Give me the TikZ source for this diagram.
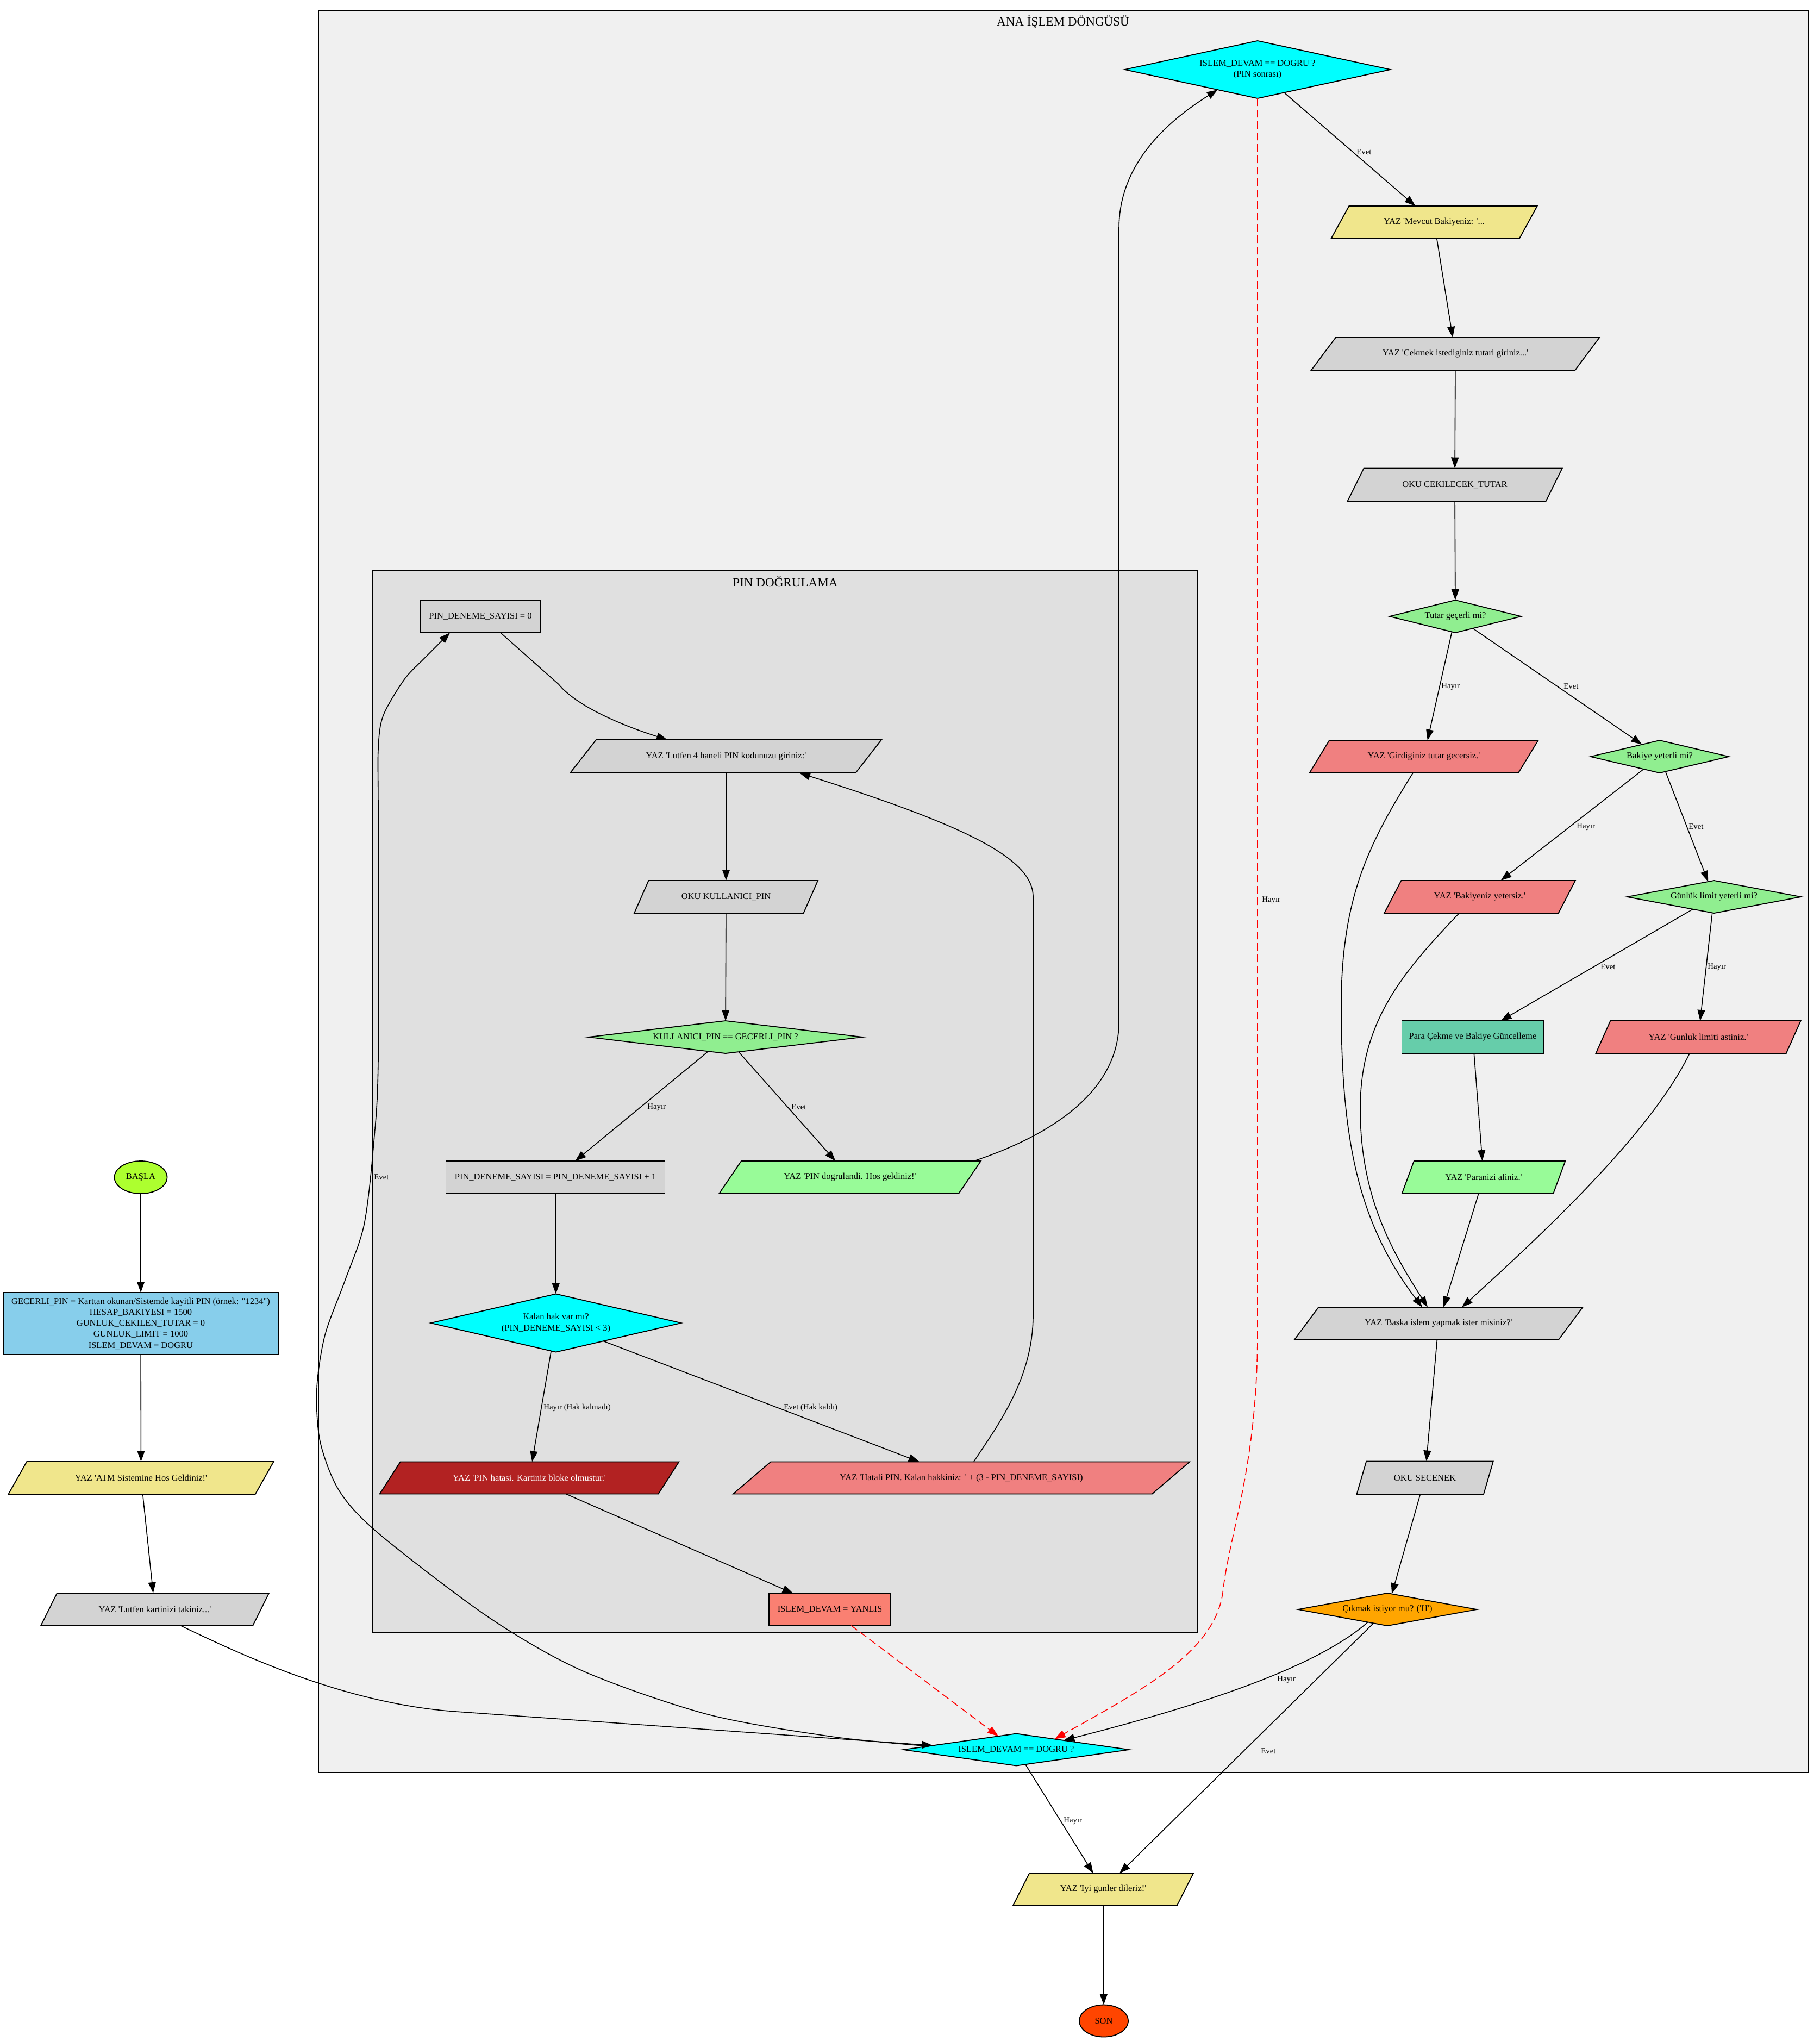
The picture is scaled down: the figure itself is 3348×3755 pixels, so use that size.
\documentclass[tikz,border=0pt]{standalone}
\usepackage{fontspec}
\setmainfont{Liberation Serif}[Ligatures=TeXOff]
\usetikzlibrary{shapes.geometric,arrows.meta,calc}
\definecolor{cOuter}{HTML}{F0F0F0}
\definecolor{cInner}{HTML}{E0E0E0}
\definecolor{cLgray}{HTML}{D3D3D3}
\definecolor{cKhaki}{HTML}{F0E68C}
\definecolor{cSky}{HTML}{87CEEB}
\definecolor{cGY}{HTML}{ADFF2F}
\definecolor{cCyan}{HTML}{00FFFF}
\definecolor{cLgreen}{HTML}{90EE90}
\definecolor{cPgreen}{HTML}{98FB98}
\definecolor{cLcoral}{HTML}{F08080}
\definecolor{cFire}{HTML}{B22222}
\definecolor{cSalmon}{HTML}{FA8072}
\definecolor{cMAqua}{HTML}{66CDAA}
\definecolor{cOrange}{HTML}{FFA500}
\definecolor{cOred}{HTML}{FF4500}
\tikzset{
 nfont/.style={font=\fontsize{8.25}{10.1}\selectfont},
 base/.style={nfont, draw=black, line width=0.9pt, inner sep=0pt, outer sep=0pt, align=center},
 boxn/.style 2 args={base, rectangle, minimum width={#1*0.5pt}, minimum height={#2*0.5pt}},
 pgram/.style 2 args={base, trapezium, trapezium stretches=true, minimum width={#1*0.5pt}, minimum height={#2*0.5pt}, trapezium left angle={atan(#2/(0.206*#1))}, trapezium right angle={180-atan(#2/(0.206*#1))}},
 dmd/.style n args={3}{base, diamond, minimum width={#1*0.5pt}, minimum height={#2*0.5pt}, aspect=#3},
 ell/.style 2 args={base, ellipse, minimum width={#1*0.5pt}, minimum height={#2*0.5pt}},
 conn/.style={draw=black, line width=0.8pt, -{Triangle[length=10pt,width=7pt]}},
 rconn/.style={draw=red, line width=0.8pt, dash pattern=on 7pt off 3.5pt, -{Triangle[length=10pt,width=7pt]}},
 elab/.style={font=\fontsize{7.4}{8.9}\selectfont, anchor=west, inner sep=0pt},
 ctitle/.style={font=\fontsize{11.55}{13.5}\selectfont, inner sep=0pt},
}
\begin{document}
\begin{tikzpicture}[x=0.5pt,y=-0.5pt]
\useasboundingbox (0,0) rectangle (3348,3755);
\fill[white] (0,0) rectangle (3348,3755);
% clusters
\draw[fill=cOuter, line width=0.9pt] (586,19) rectangle (3327,3261);
\draw[fill=cInner, line width=0.9pt] (686,1049) rectangle (2204,3004);
\node[ctitle] (tOuter) at (1956,40) {ANA İŞLEM DÖNGÜSÜ};
\node[ctitle] (tInner) at (1445,1070) {PIN DOĞRULAMA};

% left column
\node[ell={97}{60}, fill=cGY] (start) at (259,2166) {BAŞLA};
\node[boxn={506}{114}, fill=cSky] (init) at (259,2435) {GECERLI\_PIN = Karttan okunan/Sistemde kayitli PIN (örnek: "1234")\\HESAP\_BAKIYESI = 1500\\GUNLUK\_CEKILEN\_TUTAR = 0\\GUNLUK\_LIMIT = 1000\\ISLEM\_DEVAM = DOGRU};
\node[pgram={489}{60}, fill=cKhaki] (atm) at (259.5,2719) {YAZ 'ATM Sistemine Hos Geldiniz!'};
\node[pgram={420}{60}, fill=cLgray] (kart) at (285,2961) {YAZ 'Lutfen kartinizi takiniz...'};

% PIN cluster
\node[boxn={220}{60}, fill=cLgray] (pin0) at (884,1134) {PIN\_DENEME\_SAYISI = 0};
\node[pgram={574}{61}, fill=cLgray] (l4) at (1336,1391) {YAZ 'Lutfen 4 haneli PIN kodunuzu giriniz:'};
\node[pgram={340}{60}, fill=cLgray] (okupin) at (1336,1650) {OKU KULLANICI\_PIN};
\node[dmd={504}{60}{8.4}, fill=cLgreen] (kpin) at (1335,1908) {KULLANICI\_PIN == GECERLI\_PIN ?};
\node[boxn={403}{60}, fill=cLgray] (pinp) at (1022,2166) {PIN\_DENEME\_SAYISI = PIN\_DENEME\_SAYISI + 1};
\node[pgram={482}{60}, fill=cPgreen] (pok) at (1564,2166) {YAZ 'PIN dogrulandi. Hos geldiniz!'};
\node[dmd={461}{107}{4.31}, fill=cCyan] (kalan) at (1023,2434) {Kalan hak var mı?\\(PIN\_DENEME\_SAYISI < 3)};
\node[pgram={552}{59}, fill=cFire, text=white] (blok) at (974,2719) {YAZ 'PIN hatasi. Kartiniz bloke olmustur.'};
\node[pgram={843}{59}, fill=cLcoral] (hatali) at (1769,2719) {YAZ 'Hatali PIN. Kalan hakkiniz: ' + (3 - PIN\_DENEME\_SAYISI)};
\node[boxn={224}{59}, fill=cSalmon] (yanlis) at (1527,2961) {ISLEM\_DEVAM = YANLIS};

% main loop
\node[dmd={415}{59}{7.03}, fill=cCyan] (bd) at (1870,3219) {ISLEM\_DEVAM == DOGRU ?};
\node[dmd={489}{106}{4.61}, fill=cCyan] (td) at (2314,128) {ISLEM\_DEVAM == DOGRU ?\\(PIN sonrası)};
\node[pgram={380}{60}, fill=cKhaki] (mev) at (2639,409) {YAZ 'Mevcut Bakiyeniz: '...};
\node[pgram={531}{60}, fill=cLgray] (cek) at (2678,651) {YAZ 'Cekmek istediginiz tutari giriniz...'};
\node[pgram={396}{61}, fill=cLgray] (okut) at (2677,892) {OKU CEKILECEK\_TUTAR};
\node[dmd={242}{60}{4.03}, fill=cLgreen] (tutar) at (2678,1134) {Tutar geçerli mi?};
\node[pgram={421}{60}, fill=cLcoral] (gecersiz) at (2620,1392) {YAZ 'Girdiginiz tutar gecersiz.'};
\node[dmd={254}{60}{4.23}, fill=cLgreen] (bakiye) at (3054,1392) {Bakiye yeterli mi?};
\node[pgram={352}{60}, fill=cLcoral] (yetersiz) at (2723,1650) {YAZ 'Bakiyeniz yetersiz.'};
\node[dmd={320}{60}{5.33}, fill=cLgreen] (gunluk) at (3154,1650) {Günlük limit yeterli mi?};
\node[boxn={261}{60}, fill=cMAqua] (para) at (2710,1908) {Para Çekme ve Bakiye Güncelleme};
\node[pgram={377}{60}, fill=cLcoral] (astiniz) at (3125,1908) {YAZ 'Gunluk limiti astiniz.'};
\node[pgram={303}{60}, fill=cPgreen] (alin) at (2730,2166) {YAZ 'Paranizi aliniz.'};
\node[pgram={532}{60}, fill=cLgray] (baska) at (2647,2435) {YAZ 'Baska islem yapmak ister misiniz?'};
\node[pgram={252}{61}, fill=cLgray] (okus) at (2622,2719) {OKU SECENEK};
\node[dmd={329}{60}{5.48}, fill=cOrange] (cik) at (2553,2961) {Çıkmak istiyor mu? ('H')};
\node[pgram={333}{59}, fill=cKhaki] (iyi) at (2030,3476) {YAZ 'Iyi gunler dileriz!'};
\node[ell={90}{59}, fill=cOred] (son) at (2031,3718) {SON};

% helper coordinates (relative to node centres)
\coordinate (kS) at ($(kart.center)+(48,30)$);
\coordinate (bdA) at ($(bd.west)!0.26!(bd.north)$);
\coordinate (bdB) at ($(bd.west)!0.22!(bd.north)$);
\coordinate (bdC) at ($(bd.north)!0.34!(bd.east)$);
\coordinate (bdD) at ($(bd.north)!0.42!(bd.east)$);
\coordinate (p0E) at ($(pin0.south west)+(54,0)$);
\coordinate (p0S) at ($(pin0.south west)+(147,0)$);
\coordinate (l4T) at ($(l4.center)+(-108,-30)$);
\coordinate (l4E) at ($(l4.center)+(135,31)$);
\coordinate (pokS) at ($(pok.center)+(228,-30)$);
\coordinate (tdE) at ($(td.west)!0.7!(td.south)$);
\coordinate (hatS) at ($(hatali.center)+(23,-30)$);
\coordinate (cikS) at ($(cik.south)!0.22!(cik.west)$);
\coordinate (gS) at ($(gecersiz.center)+(-20,30)$);
\coordinate (yS) at ($(yetersiz.center)+(-38,30)$);
\coordinate (aS) at ($(astiniz.center)+(-16,30)$);
\coordinate (bkA) at ($(baska.center)+(-30,-30)$);
\coordinate (bkB) at ($(baska.center)+(-20,-30)$);
\coordinate (bkC) at ($(baska.center)+(43,-30)$);

% left edges
\draw[conn] (start) -- (init);
\draw[conn] (init) -- (atm);
\draw[conn] (atm) -- (kart);
\draw[conn] (kS) .. controls (453,3049) and (640,3135) .. (840,3149) -- (bdA);

% Evet loop back to PIN
\draw[conn] plot[smooth, tension=0.5] coordinates {(bdB) (1531,3195) (1302,3154) (1072,3074) (900,2976) (700,2824) (625,2744) (589,2652) (583,2554) (598,2456) (634,2358) (670,2253) (688,2100) (696,1950) (696,1500) (696,1379) (705,1317) (744,1250) (782,1210) (p0E)};
\node[elab] (lbEv0) at (688,2166) {Evet};

% PIN cluster edges
\draw[conn] (p0S) -- (1028,1259) .. controls (1060,1298) and (1140,1333) .. (l4T);
\draw[conn] (l4) -- (okupin);
\draw[conn] (okupin) -- (kpin);
\draw[conn] (kpin) -- (pinp);
\node[elab] (lbH1) at (1191,2037) {Hayır};
\draw[conn] (kpin) -- (pok);
\node[elab] (lbE1) at (1456,2037) {Evet};
\draw[conn] (pinp) -- (kalan);
\draw[conn] (kalan) -- (blok);
\node[elab] (lbH2) at (1000,2590) {Hayır (Hak kalmadı)};
\draw[conn] (kalan) -- (hatali);
\node[elab] (lbE2) at (1442,2590) {Evet (Hak kaldı)};
\draw[conn] (blok) -- (yanlis);
\draw[conn] (hatS) .. controls (1830,2630) and (1901,2540) .. (1901,2420) -- (1901,1650) .. controls (1901,1580) and (1780,1520) .. (l4E);
\draw[conn] (pokS) .. controls (1930,2090) and (2059,2010) .. (2059,1880) -- (2059,420) .. controls (2059,300) and (2150,222) .. (tdE);
\draw[rconn] (yanlis) -- (bd);

% main loop edges
\draw[rconn] (td.south) -- (2314,2450) .. controls (2314,2700) and (2262,2820) .. (2250,2930) .. controls (2235,3040) and (2100,3110) .. (bdC);
\node[elab] (lbHtd) at (2322,1656) {Hayır};
\draw[conn] (td) -- (mev);
\node[elab] (lbEtd) at (2496,280) {Evet};
\draw[conn] (mev) -- (cek);
\draw[conn] (cek) -- (okut);
\draw[conn] (okut) -- (tutar);
\draw[conn] (tutar) -- (gecersiz);
\node[elab] (lbH3) at (2652,1263) {Hayır};
\draw[conn] (tutar) -- (bakiye);
\node[elab] (lbE3) at (2877,1263) {Evet};
\draw[conn] (bakiye) -- (yetersiz);
\node[elab] (lbH4) at (2901,1521) {Hayır};
\draw[conn] (bakiye) -- (gunluk);
\node[elab] (lbE4) at (3107,1521) {Evet};
\draw[conn] (gunluk) -- (para);
\node[elab] (lbE5) at (2945,1779) {Evet};
\draw[conn] (gunluk) -- (astiniz);
\node[elab] (lbH5) at (3142,1779) {Hayır};
\draw[conn] (para) -- (alin);
\draw[conn] (alin) -- (baska);
\draw[conn] (gS) .. controls (2520,1550) and (2468,1650) .. (2468,1850) .. controls (2468,2100) and (2500,2250) .. (bkA);
\draw[conn] (yS) .. controls (2580,1790) and (2503,1880) .. (2503,2040) .. controls (2503,2200) and (2560,2300) .. (bkB);
\draw[conn] (aS) .. controls (3040,2080) and (2850,2260) .. (bkC);
\draw[conn] (baska) -- (okus);
\draw[conn] (okus) -- (cik);
\draw[conn] (cikS) .. controls (2420,3070) and (2200,3140) .. (bdD);
\node[elab] (lbH6) at (2350,3090) {Hayır};
\draw[conn] (cik) -- (iyi);
\node[elab] (lbE6) at (2320,3222) {Evet};
\draw[conn] (bd) -- (iyi);
\node[elab] (lbH7) at (1957,3350) {Hayır};
\draw[conn] (iyi) -- (son);
\end{tikzpicture}
\end{document}
